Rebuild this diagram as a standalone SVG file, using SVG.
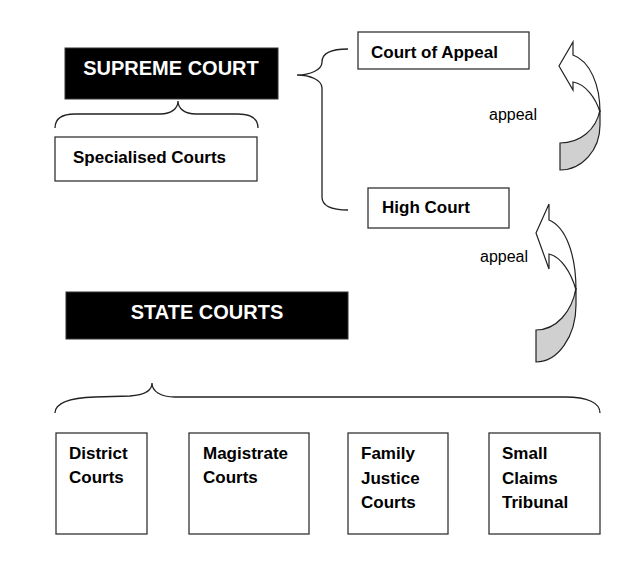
<svg xmlns="http://www.w3.org/2000/svg" width="630" height="571" viewBox="0 0 630 571">
<style>
.box{fill:#fff;stroke:#333;stroke-width:1.3}
.dark{fill:#000;stroke:#333;stroke-width:1}
.hd{font-family:"Liberation Sans",Arial,sans-serif;font-weight:bold;font-size:20px;fill:#fff;text-anchor:middle}
.lb{font-family:"Liberation Sans",Arial,sans-serif;font-weight:bold;font-size:17px;fill:#000}
.ap{font-family:"Liberation Sans",Arial,sans-serif;font-size:16px;fill:#000}
.br{fill:none;stroke:#222;stroke-width:1.3}
.aw{fill:#fff;stroke:#222;stroke-width:1.2;stroke-linejoin:miter}
.ag{fill:#d0d0d0;stroke:#222;stroke-width:1.2}
</style>
<rect width="630" height="571" fill="#fff"/>
<g id="supreme-court">
<rect class="dark" x="65" y="48" width="213" height="51"/>
<text class="hd" x="171" y="75">SUPREME COURT</text>
</g>
<g id="specialised-courts">
<rect class="box" x="55" y="137" width="202" height="44"/>
<text class="lb" x="73" y="163">Specialised Courts</text>
</g>
<g id="court-of-appeal">
<rect class="box" x="358" y="32" width="171" height="37"/>
<text class="lb" x="371" y="58">Court of Appeal</text>
</g>
<g id="high-court">
<rect class="box" x="368" y="188" width="141" height="40"/>
<text class="lb" x="382" y="213">High Court</text>
</g>
<g id="state-courts">
<rect class="dark" x="66" y="292" width="282" height="47"/>
<text class="hd" x="207" y="319">STATE COURTS</text>
</g>
<g id="district-courts">
<rect class="box" x="56" y="433" width="91" height="101"/>
<text class="lb" x="69" y="459">District</text>
<text class="lb" x="69" y="483">Courts</text>
</g>
<g id="magistrate-courts">
<rect class="box" x="189" y="433" width="120" height="101"/>
<text class="lb" x="203" y="459">Magistrate</text>
<text class="lb" x="203" y="483">Courts</text>
</g>
<g id="family-justice-courts">
<rect class="box" x="348" y="433" width="100" height="101"/>
<text class="lb" x="361" y="459">Family</text>
<text class="lb" x="361" y="484">Justice</text>
<text class="lb" x="361" y="508">Courts</text>
</g>
<g id="small-claims-tribunal">
<rect class="box" x="489" y="433" width="111" height="101"/>
<text class="lb" x="502" y="459">Small</text>
<text class="lb" x="502" y="484">Claims</text>
<text class="lb" x="502" y="508">Tribunal</text>
</g>
<g id="connectors">
<path class="br" d="M55,128 C55,119 62,114 75,114 L160,114 C172,114 178,108 178,101 C178,108 184,114 196,114 L238,114 C251,114 258,119 258,128"/>
<path class="br" d="M348,49 C332,49 322,53 322,62 C322,70 310,75 297,75 C310,75 322,80 322,88 L322,197 C322,206 332,210 348,210"/>
<path class="br" d="M55,413 C55,403 68,398 95,397 L130,396 C145,395 152,390 152,383 C152,391 160,397 175,397 L565,397 C588,397 600,403 600,413"/>
<g id="appeal-arrow-1">
<path class="aw" d="M573,42 L573,55 C590,61 600,85 600,112 C596,99 586,84 573,82 L573,90 L559,66 Z"/>
<path class="ag" d="M600,110 L600,125 C600,150 582,170 560,170 L560,143 C580,143 596,130 600,110 Z"/>
<text class="ap" x="489" y="120">appeal</text>
</g>
<g id="appeal-arrow-2">
<path class="aw" d="M549,204 L549,220 C566,227 576,255 576,290 C571,272 561,257 549,254 L549,269 L536,233 Z"/>
<path class="ag" d="M576,288 L576,305 C576,336 558,362 536,362 L536,330 C556,330 572,312 576,288 Z"/>
<text class="ap" x="480" y="262">appeal</text>
</g>
</g>
</svg>
